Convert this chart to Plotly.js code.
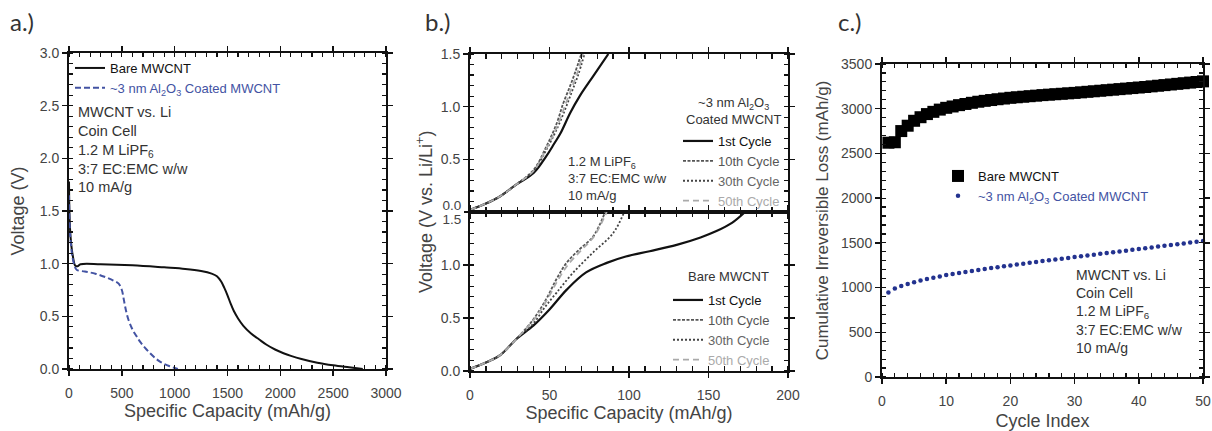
<!DOCTYPE html>
<html>
<head>
<meta charset="utf-8">
<script src="https://cdn.plot.ly/plotly-3.0.1.min.js"></script>
<style>html,body{margin:0;padding:0;background:#fff}#chart{width:1212px;height:431px}</style>
</head>
<body>
<div id="chart"></div>
<script>
// ---------- Panel a: first discharge ----------
const bareCapA = [0, 5, 15, 35, 60, 80, 110, 300, 600, 900, 1100, 1250, 1350, 1400, 1440, 1470, 1500, 1530, 1560, 1600, 1650, 1720, 1800, 1870, 1950, 2030, 2100, 2200, 2350, 2500, 2650, 2780];
const bareVA   = [1.78, 1.45, 1.25, 1.08, 0.98, 0.975, 0.995, 0.995, 0.985, 0.965, 0.95, 0.93, 0.905, 0.88, 0.83, 0.77, 0.70, 0.62, 0.55, 0.48, 0.41, 0.34, 0.28, 0.23, 0.185, 0.15, 0.125, 0.095, 0.06, 0.035, 0.016, 0.0];
const coatCapA = [0, 5, 15, 35, 60, 75, 150, 250, 350, 420, 470, 500, 515, 530, 545, 562, 585, 609, 640, 672, 720, 767, 815, 861, 910, 956, 1000, 1030];
const coatVA   = [1.65, 1.4, 1.22, 1.05, 0.96, 0.94, 0.925, 0.905, 0.87, 0.84, 0.81, 0.75, 0.68, 0.60, 0.53, 0.47, 0.41, 0.36, 0.31, 0.26, 0.20, 0.15, 0.105, 0.07, 0.043, 0.025, 0.01, 0.0];

// ---------- Panel b: charge curves (top: coated, bottom: bare) ----------
const coat1Cap  = [0, 10, 19, 29, 40, 48, 53, 57, 63, 69, 77.5, 87];
const coat1V    = [0.02, 0.08, 0.15, 0.26, 0.37, 0.53, 0.65, 0.75, 0.94, 1.1, 1.29, 1.5];
const coat10Cap = [0, 10, 19, 29, 40, 48, 54.5, 58.6, 62.8, 66, 70];
const coat10V   = [0.02, 0.08, 0.15, 0.26, 0.40, 0.62, 0.84, 1.03, 1.19, 1.32, 1.5];
const coat30Cap = [0, 10, 19, 29, 40, 48, 55, 60, 64, 68, 72];
const coat30V   = [0.02, 0.08, 0.15, 0.26, 0.39, 0.59, 0.80, 0.98, 1.14, 1.30, 1.5];
const coat50Cap = [0, 10, 19, 29, 40, 48, 55, 59.5, 63.5, 67.5, 71];
const coat50V   = [0.02, 0.08, 0.15, 0.26, 0.39, 0.60, 0.82, 1.0, 1.16, 1.32, 1.5];

const bare1Cap  = [0, 10, 19, 29, 40, 50, 61, 73, 86, 98, 113, 130, 145, 155, 165, 173];
const bare1V    = [0.02, 0.08, 0.15, 0.30, 0.43, 0.58, 0.77, 0.93, 1.02, 1.08, 1.13, 1.19, 1.26, 1.32, 1.40, 1.5];
const bare10Cap = [0, 10, 19, 29, 40, 48, 54.5, 60.7, 69, 77.5, 85];
const bare10V   = [0.02, 0.08, 0.15, 0.30, 0.49, 0.68, 0.87, 1.02, 1.15, 1.27, 1.5];
const bare30Cap = [0, 10, 19, 29, 40, 47, 54.5, 65, 77.5, 90, 97];
const bare30V   = [0.02, 0.08, 0.15, 0.30, 0.45, 0.60, 0.74, 0.93, 1.12, 1.30, 1.5];
const bare50Cap = [0, 10, 19, 29, 40, 48, 55, 61.5, 70, 78, 86];
const bare50V   = [0.02, 0.08, 0.15, 0.30, 0.48, 0.66, 0.85, 1.0, 1.14, 1.27, 1.5];

// ---------- Panel c: cumulative irreversible loss ----------
const cycleIndex = [1,2,3,4,5,6,7,8,9,10,11,12,13,14,15,16,17,18,19,20,21,22,23,24,25,26,27,28,29,30,31,32,33,34,35,36,37,38,39,40,41,42,43,44,45,46,47,48,49,50];
const bareLoss = [2620,2625,2750,2810,2865,2905,2940,2965,2990,3010,3025,3040,3053,3066,3078,3088,3097,3106,3114,3122,3128,3134,3140,3146,3152,3157,3162,3167,3172,3177,3183,3189,3195,3201,3207,3213,3219,3225,3231,3237,3243,3250,3257,3264,3271,3278,3285,3292,3299,3306];
const coatLoss = [945,990,1018,1040,1060,1078,1095,1110,1125,1140,1152,1164,1175,1186,1197,1208,1218,1228,1238,1248,1258,1267,1277,1286,1296,1305,1314,1323,1332,1341,1350,1359,1368,1377,1386,1395,1404,1413,1422,1431,1440,1449,1458,1467,1476,1485,1494,1503,1512,1521];

// ---------- labels / ticks ----------
const nameBare = 'Bare MWCNT';
const nameCoat = '~3 nm Al<sub>2</sub>O<sub>3</sub> Coated MWCNT';
const cycleNames = ['1st Cycle', '10th Cycle', '30th Cycle', '50th Cycle'];
const cellText = 'MWCNT vs. Li<br>Coin Cell<br>1.2 M LiPF<sub>6</sub><br>3:7 EC:EMC w/w<br>10 mA/g';
const electrolyteText = '1.2 M LiPF<sub>6</sub><br>3:7 EC:EMC w/w<br>10 mA/g';
const topPanelTicks = [0.5, 1.0, 1.5];     // panel b upper half
const bottomPanelTicks = [0, 0.5, 1.0];    // panel b lower half
const sharedEdgeTopTick = [0];             // "0.0" of the upper half
const sharedEdgeBottomTick = [1.5];        // "1.5" of the lower half

// ---------- styles ----------
const W = 1212, H = 431;
const px = v => v / W;
const py = v => 1 - v / H;
const FONT = 'Liberation Sans, Arial, sans-serif';
const BLUE = '#4353a3';
const NAVY = '#23328f';
const cycleStyles = [
  {color: '#111111', dash: 'solid', width: 2.2, text: '#111111'},
  {color: '#555555', dash: '3px,1.5px', width: 1.8, text: '#555555'},
  {color: '#444444', dash: '2px,2px', width: 1.8, text: '#666666'},
  {color: '#aaaaaa', dash: '6px,4px', width: 1.8, text: '#aaaaaa'}
];

function cycleTrace(x, y, i, xa, ya, leg) {
  const s = cycleStyles[i];
  return {
    x: x, y: y, xaxis: xa, yaxis: ya, type: 'scatter', mode: 'lines',
    line: {color: s.color, dash: s.dash, width: s.width, shape: 'spline'},
    name: '<span style="color:' + s.text + '">' + cycleNames[i] + '</span>',
    legend: leg
  };
}
// empty carrier traces so the edge-label axes of panel b get drawn
function axisCarrier(xa, ya) {
  return {x: [], y: [], xaxis: xa, yaxis: ya, type: 'scatter', mode: 'lines', showlegend: false, hoverinfo: 'skip'};
}

const traces = [
  {x: bareCapA, y: bareVA, type: 'scatter', mode: 'lines', xaxis: 'x', yaxis: 'y',
   line: {color: '#111', width: 2, shape: 'spline'}, name: nameBare, legend: 'legend'},
  {x: coatCapA, y: coatVA, type: 'scatter', mode: 'lines', xaxis: 'x', yaxis: 'y',
   line: {color: BLUE, width: 2, dash: '6px,3px', shape: 'spline'},
   name: '<span style="color:' + BLUE + '">' + nameCoat + '</span>', legend: 'legend'},
  cycleTrace(coat1Cap, coat1V, 0, 'x2', 'y2', 'legend2'),
  cycleTrace(coat10Cap, coat10V, 1, 'x2', 'y2', 'legend2'),
  cycleTrace(coat30Cap, coat30V, 2, 'x2', 'y2', 'legend2'),
  cycleTrace(coat50Cap, coat50V, 3, 'x2', 'y2', 'legend2'),
  cycleTrace(bare1Cap, bare1V, 0, 'x3', 'y3', 'legend3'),
  cycleTrace(bare10Cap, bare10V, 1, 'x3', 'y3', 'legend3'),
  cycleTrace(bare30Cap, bare30V, 2, 'x3', 'y3', 'legend3'),
  cycleTrace(bare50Cap, bare50V, 3, 'x3', 'y3', 'legend3'),
  axisCarrier('x2', 'y5'),
  axisCarrier('x3', 'y6'),
  {x: cycleIndex, y: bareLoss, type: 'scatter', mode: 'markers', xaxis: 'x4', yaxis: 'y4',
   marker: {symbol: 'square', size: 12, color: '#000'}, cliponaxis: false,
   name: nameBare, legend: 'legend4'},
  {x: cycleIndex, y: coatLoss, type: 'scatter', mode: 'markers', xaxis: 'x4', yaxis: 'y4',
   marker: {symbol: 'circle', size: 4.5, color: NAVY}, cliponaxis: false,
   name: '<span style="color:' + BLUE + '">' + nameCoat + '</span>', legend: 'legend4'}
];

function ax(extra) {
  return Object.assign({
    showline: true, linecolor: '#111', linewidth: 2, mirror: 'allticks',
    ticks: 'outside', ticklen: 5, tickwidth: 1.5, tickcolor: '#111',
    showgrid: false, zeroline: false,
    tickfont: {family: FONT, size: 14, color: '#444'}
  }, extra);
}
function minor(d) {
  return {dtick: d, ticks: 'inside', ticklen: 4, tickwidth: 1.2, tickcolor: '#111', showgrid: false};
}
function edgeAxis(overlay, anchor, vals, shift) {
  return {
    overlaying: overlay, anchor: anchor, side: 'left', range: [0, 1.5], tickmode: 'array', tickvals: vals,
    tickformat: '.1f', showline: false, showgrid: false, zeroline: false,
    ticks: 'outside', ticklen: 5, tickwidth: 1.5, tickcolor: '#111', ticklabelshift: shift,
    tickfont: {family: FONT, size: 13.5, color: '#444'}
  };
}
const titleFont = {family: FONT, size: 18, color: '#444'};

const legendBase = {
  xref: 'paper', yref: 'paper', xanchor: 'left', yanchor: 'top',
  bgcolor: 'rgba(0,0,0,0)', borderwidth: 0, itemwidth: 30, tracegroupgap: 0,
  font: {family: FONT, size: 13, color: '#111'}
};

const layout = {
  width: W, height: H,
  margin: {l: 0, r: 0, t: 0, b: 0},
  paper_bgcolor: '#fff', plot_bgcolor: 'rgba(0,0,0,0)',
  showlegend: true,
  xaxis: ax({domain: [px(69), px(386)], range: [0, 3000], dtick: 500, anchor: 'y', minor: minor(100), ticklabelstandoff: 5,
    title: {text: 'Specific Capacity (mAh/g)', standoff: 2, font: titleFont}}),
  yaxis: ax({domain: [py(369), py(53)], range: [0, 3], dtick: 0.5, tickformat: '.1f', anchor: 'x', minor: minor(0.1),
    title: {text: 'Voltage (V)', standoff: 10, font: titleFont}}),
  xaxis2: ax({domain: [px(470), px(788)], range: [0, 200], dtick: 50, anchor: 'y2', showticklabels: false, minor: minor(10)}),
  yaxis2: ax({domain: [py(212), py(54)], range: [0, 1.5], tickmode: 'array', tickvals: topPanelTicks, tickformat: '.1f', anchor: 'x2', minor: minor(0.1)}),
  xaxis3: ax({domain: [px(470), px(788)], range: [0, 200], dtick: 50, anchor: 'y3', minor: minor(10), ticklabelstandoff: 5,
    title: {text: 'Specific Capacity (mAh/g)', standoff: 2, font: titleFont}}),
  yaxis3: ax({domain: [py(371), py(212)], range: [0, 1.5], tickmode: 'array', tickvals: bottomPanelTicks, tickformat: '.1f', anchor: 'x3', minor: minor(0.1)}),
  yaxis5: edgeAxis('y2', 'x2', sharedEdgeTopTick, -7),
  yaxis6: edgeAxis('y3', 'x3', sharedEdgeBottomTick, 7),
  xaxis4: ax({domain: [px(882), px(1203)], range: [0, 50], dtick: 10, anchor: 'y4', minor: minor(2), ticklabelstandoff: 5,
    title: {text: 'Cycle Index', standoff: 10, font: titleFont}}),
  yaxis4: ax({domain: [py(377), py(64)], range: [0, 3500], dtick: 500, anchor: 'x4', minor: minor(100),
    title: {text: 'Cumulative Irreversible Loss (mAh/g)', standoff: 8, font: {family: FONT, size: 17, color: '#444'}}}),
  legend:  Object.assign({}, legendBase, {x: px(70), y: py(53)}),
  legend2: Object.assign({}, legendBase, {x: px(678), y: py(126)}),
  legend3: Object.assign({}, legendBase, {x: px(668), y: py(285)}),
  legend4: Object.assign({}, legendBase, {x: px(938), y: py(161)}),
  annotations: [
    {text: 'a.)', x: px(8), y: py(22), xref: 'paper', yref: 'paper', xanchor: 'left', yanchor: 'middle', showarrow: false,
     font: {family: 'Lato, sans-serif', size: 24, color: '#333'}},
    {text: 'b.)', x: px(423), y: py(22), xref: 'paper', yref: 'paper', xanchor: 'left', yanchor: 'middle', showarrow: false,
     font: {family: 'Lato, sans-serif', size: 24, color: '#333'}},
    {text: 'c.)', x: px(836), y: py(22), xref: 'paper', yref: 'paper', xanchor: 'left', yanchor: 'middle', showarrow: false,
     font: {family: 'Lato, sans-serif', size: 24, color: '#333'}},
    {text: cellText, x: px(76), y: py(102), xref: 'paper', yref: 'paper', xanchor: 'left', yanchor: 'top', align: 'left', showarrow: false,
     font: {family: FONT, size: 14.5, color: '#333'}},
    {text: electrolyteText, x: px(566), y: py(152), xref: 'paper', yref: 'paper', xanchor: 'left', yanchor: 'top', align: 'left', showarrow: false,
     font: {family: FONT, size: 13, color: '#333'}},
    {text: '~3 nm Al<sub>2</sub>O<sub>3</sub><br>Coated MWCNT', x: px(783), y: py(93), xref: 'paper', yref: 'paper', xanchor: 'right', yanchor: 'top', align: 'center', showarrow: false,
     font: {family: FONT, size: 13, color: '#333'}},
    {text: 'Bare MWCNT', x: px(728), y: py(276), xref: 'paper', yref: 'paper', xanchor: 'center', yanchor: 'middle', showarrow: false,
     font: {family: FONT, size: 13, color: '#333'}},
    {text: cellText, x: px(1074), y: py(265), xref: 'paper', yref: 'paper', xanchor: 'left', yanchor: 'top', align: 'left', showarrow: false,
     font: {family: FONT, size: 14, color: '#333'}},
    {text: 'Voltage (V vs. Li/Li<sup>+</sup>)', x: px(424), y: py(212), xref: 'paper', yref: 'paper', xanchor: 'center', yanchor: 'middle', textangle: -90, showarrow: false,
     font: titleFont}
  ]
};

Plotly.newPlot('chart', traces, layout, {staticPlot: true, displayModeBar: false});
</script>
</body>
</html>
